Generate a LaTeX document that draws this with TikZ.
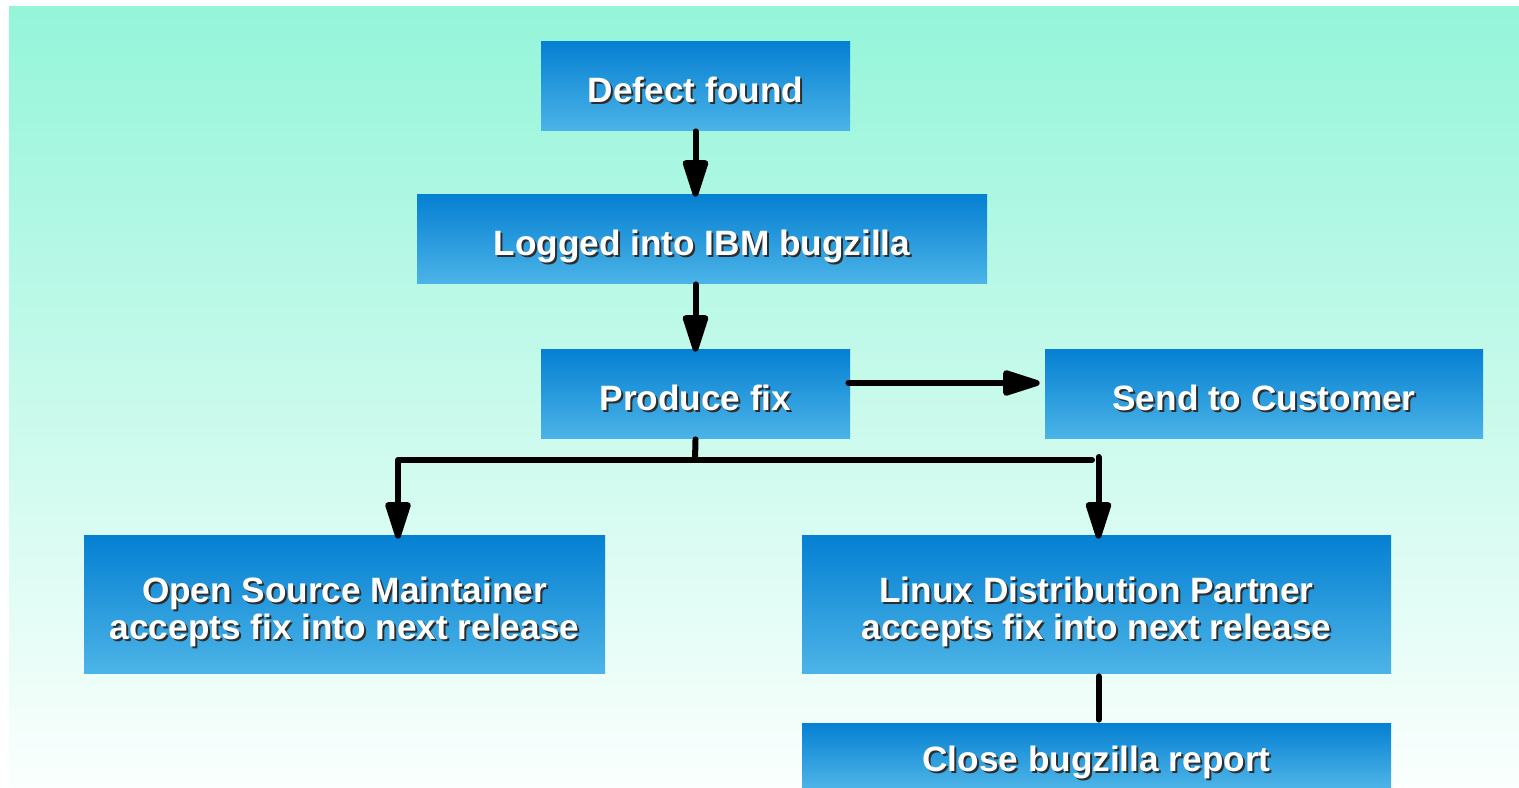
\documentclass[tikz,border=0pt]{standalone}
\usepackage{fontspec}
\setmainfont{Liberation Sans}
\usepackage{tikz}
\usetikzlibrary{arrows.meta}

\definecolor{boxtop}{RGB}{5,128,210}
\definecolor{boxbot}{RGB}{76,180,231}
\definecolor{bgtop}{RGB}{148,245,217}
\definecolor{bgbot}{RGB}{251,255,254}
\definecolor{txtshade}{RGB}{45,45,45}

% white text with a dark drop shadow, moved a little below the middle
\newcommand{\shtext}[1]{\raisebox{-5pt}[\height][\depth]{%
  \makebox[0pt][l]{\hspace{1pt}\raisebox{-1pt}{\color{txtshade}\begin{tabular}{@{}c@{}}#1\end{tabular}}}%
  \begin{tabular}{@{}c@{}}#1\end{tabular}}}

\begin{document}
\begin{tikzpicture}[x=0.5pt,y=0.5pt,
    box/.style={inner sep=0pt,minimum height=44.5pt,top color=boxtop,bottom color=boxbot,
        text=white,font=\fontsize{17.6}{17.75}\selectfont\bfseries},
    flow/.style={-{Triangle[length=22pt,width=13pt,round]}}]
\useasboundingbox (0,0) rectangle (1519,787);
\shade[top color=bgtop,bottom color=bgbot] (9,0) rectangle (1519,780);

\node[box,minimum width=154.5pt] (defect) at (695.5,700.5) {\shtext{Defect found}};
\node[box,minimum width=285pt] (logged) at (702,547.5) {\shtext{Logged into IBM bugzilla}};
\node[box,minimum width=154.5pt] (fix) at (695.5,392.5) {\shtext{Produce fix}};
\node[box,minimum width=219pt] (cust) at (1264,392.5) {\shtext{Send to Customer}};
\node[box,minimum width=260.5pt,minimum height=68.5pt] (osm) at (344.5,182.5)
    {\shtext{Open Source Maintainer\\accepts fix into next release}};
\node[box,minimum width=294.5pt,minimum height=68.5pt] (ldp) at (1096.5,182.5)
    {\shtext{Linux Distribution Partner\\accepts fix into next release}};
\node[box,minimum width=294.5pt,minimum height=32pt] (close) at (1096.5,32) {\shtext{Close bugzilla report}};

\coordinate (split) at (695,327);
\coordinate (jl) at (398,327);
\coordinate (jr) at (1092,327);

\begin{scope}[line width=3pt,line cap=round,line join=round]
    \draw[flow] (defect.south) -- ([yshift=-1pt]defect.south |- logged.north);
    \draw[flow] (fix.north |- logged.south) -- ([yshift=-1pt]fix.north);
    \draw[flow] ([yshift=5.75pt,xshift=-1pt]fix.east) -- ([yshift=5.75pt,xshift=-2.5pt]cust.west);
    \draw (fix.south) -- (split);
    \draw[flow] (jr) -- (jl) -- ([yshift=-1.5pt]jl |- osm.north);
    \draw[flow] ([xshift=1pt,yshift=1.5pt]ldp.north |- jr) -- ([xshift=1pt,yshift=-1.5pt]ldp.north);
    \draw ([xshift=1pt,yshift=-1.5pt]ldp.south) -- ([xshift=1pt,yshift=1.5pt]close.north);
\end{scope}
\end{tikzpicture}
\end{document}
